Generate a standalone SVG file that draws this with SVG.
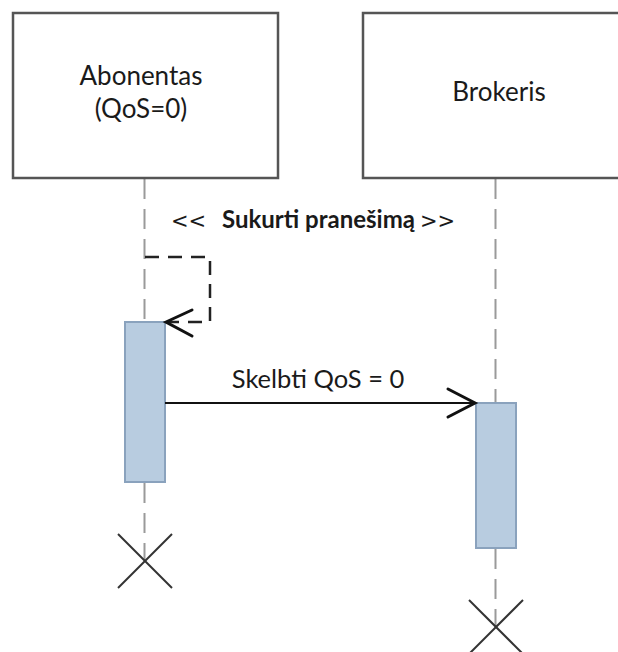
<svg xmlns="http://www.w3.org/2000/svg" width="618" height="652" viewBox="0 0 618 652">
  <style>
    .box { fill: #ffffff; stroke: #555555; stroke-width: 2.5; }
    .label { font-family: Lato, "Open Sans", "Liberation Sans", sans-serif; fill: #1a1a1a; }
    .stereo { font-family: "DejaVu Sans", "Liberation Sans", sans-serif; font-size: 21px; fill: #1a1a1a; }
    .lifeline { stroke: #9a9a9a; stroke-width: 2; stroke-dasharray: 20 10; fill: none; }
    .act { fill: #b8cce0; stroke: #8aa2bd; stroke-width: 2; }
    .msg { stroke: #111111; stroke-width: 2; fill: none; }
    .self { stroke: #222222; stroke-width: 2.5; fill: none; stroke-dasharray: 14 9; }
    .head { stroke: #111111; stroke-width: 3; fill: none; stroke-linecap: round; }
    .destroy { stroke: #333333; stroke-width: 2; }
  </style>

  <rect width="618" height="652" fill="#ffffff"/>

  <!-- lifelines -->
  <g id="lifelines">
    <line class="lifeline" x1="144.5" y1="179" x2="144.5" y2="322"/>
    <line class="lifeline" x1="144.5" y1="483" x2="144.5" y2="560"/>
    <line class="lifeline" x1="495.5" y1="179" x2="495.5" y2="402"/>
    <line class="lifeline" x1="495.5" y1="549" x2="495.5" y2="626"/>
  </g>

  <g id="abonentas">
    <rect class="box" x="13" y="13" width="265" height="165"/>
    <text class="label" x="141" y="85" font-size="26" text-anchor="middle">Abonentas</text>
    <text class="label" x="141" y="118" font-size="26" text-anchor="middle">(QoS=0)</text>
  </g>

  <g id="brokeris">
    <rect class="box" x="363" y="13" width="265" height="165"/>
    <text class="label" x="499" y="101" font-size="26" text-anchor="middle">Brokeris</text>
  </g>

  <g id="activation-abonentas">
    <rect class="act" x="125" y="322" width="40" height="160"/>
  </g>

  <g id="activation-brokeris">
    <rect class="act" x="476" y="403" width="40" height="145"/>
  </g>

  <!-- connectors -->
  <g id="connectors">
    <!-- self message with stereotype label -->
    <polyline class="self" points="145,257 210,257 210,322 167,322"/>
    <polyline class="head" points="192,310 166,322 192,336"/>
    <text class="stereo" x="171" y="228">&lt;&lt;</text>
    <text class="label" x="222" y="228" font-size="24" font-weight="bold">Sukurti pranešimą</text>
    <text class="stereo" x="420" y="228">&gt;&gt;</text>

    <!-- publish message -->
    <line class="msg" x1="165" y1="403" x2="474" y2="403"/>
    <polyline class="head" points="448,389 475,403 448,417"/>
    <text class="label" x="318" y="388" font-size="25.5" text-anchor="middle">Skelbti QoS = 0</text>
  </g>

  <!-- destruction marks -->
  <g id="destroy-abonentas">
    <line class="destroy" x1="118" y1="534" x2="172" y2="588"/>
    <line class="destroy" x1="172" y1="534" x2="118" y2="588"/>
  </g>
  <g id="destroy-brokeris">
    <line class="destroy" x1="469" y1="600" x2="523" y2="654"/>
    <line class="destroy" x1="523" y1="600" x2="469" y2="654"/>
  </g>
</svg>
